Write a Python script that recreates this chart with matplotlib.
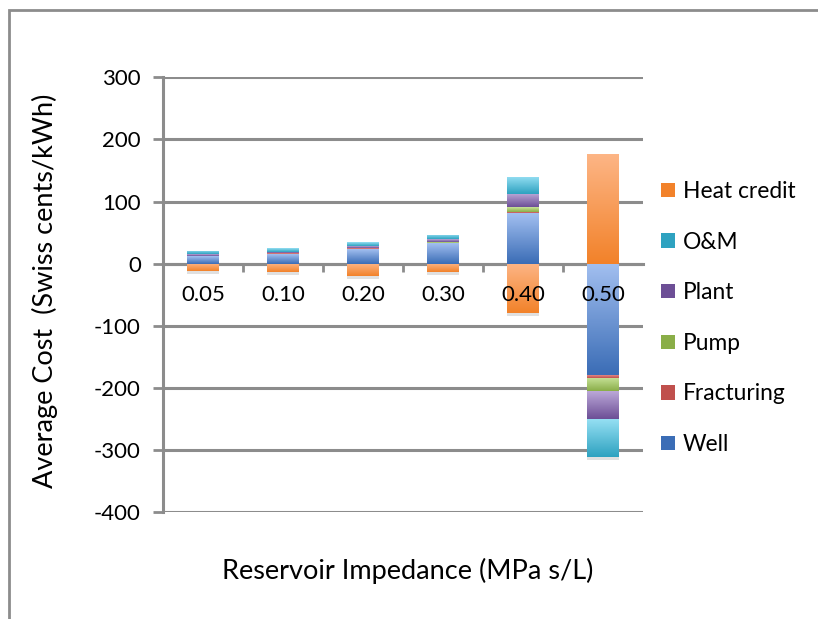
import numpy as np
import matplotlib
matplotlib.use('Agg')
import matplotlib.pyplot as plt
from matplotlib.patches import Patch, Rectangle
from matplotlib.colors import LinearSegmentedColormap
import matplotlib.patheffects as pe

plt.rcParams['font.family'] = ['Lato', 'DejaVu Sans']
plt.rcParams['axes.unicode_minus'] = False

categories = ['0.05', '0.10', '0.20', '0.30', '0.40', '0.50']
series = ['Well', 'Fracturing', 'Pump', 'Plant', 'O&M', 'Heat credit']
well = [12, 16, 24, 33, 81, -179]
fracturing = [0.4, 0.5, 0.7, 1.0, 2.5, -5]
pump = [0.5, 0.6, 1.0, 1.5, 7, -21]
plant = [2, 2.5, 3, 4, 21, -45]
om = [5, 6, 6, 6.5, 28, -61]
heat_credit = [-12, -14, -20, -14, -79, 176]

# (light top, dark bottom) like the old Excel gradient fills
colors = {
    'Well': ('#a2bff0', '#3b6db6'),
    'Fracturing': ('#ec9a98', '#c0504d'),
    'Pump': ('#c8e39a', '#8aae48'),
    'Plant': ('#bba8d8', '#6d4f96'),
    'O&M': ('#95dff3', '#2ea2c0'),
    'Heat credit': ('#fdb585', '#f2822a'),
}
grid_c = '#8c8c8c'

values = [well, fracturing, pump, plant, om, heat_credit]

fig = plt.figure(figsize=(8.18, 6.19), dpi=100)
ax = fig.add_axes([163/818, 1 - 512.3/619, 480/818, 435/619])

x = np.arange(len(categories))
pos_base = np.zeros(len(categories))
neg_base = np.zeros(len(categories))
grad = np.linspace(0, 1, 64).reshape(-1, 1)

for name, vals in zip(series, values):
    vals = np.array(vals, dtype=float)
    bottom = np.where(vals >= 0, pos_base, neg_base)
    bars = ax.bar(x, vals, bottom=bottom, width=0.4, color=colors[name][1],
                  linewidth=0, zorder=3,
                  path_effects=[pe.SimplePatchShadow(offset=(0, -2), shadow_rgbFace='#999999', alpha=0.3),
                                pe.Normal()])
    cmap = LinearSegmentedColormap.from_list(name, [colors[name][0], colors[name][1]])
    for b in bars:
        x0, y0 = b.get_x(), b.get_y()
        w, h = b.get_width(), b.get_height()
        lo, hi = min(y0, y0 + h), max(y0, y0 + h)
        im = ax.imshow(grad, cmap=cmap, aspect='auto', extent=(x0, x0 + w, lo, hi),
                       origin='upper', zorder=3.5, interpolation='bilinear')
        im.set_clip_path(b)
    pos_base = pos_base + np.where(vals >= 0, vals, 0)
    neg_base = neg_base + np.where(vals < 0, vals, 0)

ax.set_xlim(-0.5, len(categories) - 0.5)
ax.set_ylim(-400, 300)
ax.set_yticks(np.arange(-400, 301, 100))
ax.yaxis.grid(True, color=grid_c, linewidth=2.2, zorder=0)
ax.set_axisbelow(True)

ax.spines['top'].set_visible(False)
ax.spines['right'].set_visible(False)
ax.spines['left'].set_color(grid_c)
ax.spines['left'].set_linewidth(2.2)
ax.spines['bottom'].set_position(('data', 0))
ax.spines['bottom'].set_color(grid_c)
ax.spines['bottom'].set_linewidth(2.2)

ax.set_xticks(np.arange(0.5, len(categories) - 1, 1))
ax.set_xticklabels([])
ax.set_xticks(x, minor=True)
ax.set_xticklabels(categories, minor=True)
ax.tick_params(axis='x', which='major', direction='out', length=6, width=2, color=grid_c)
ax.tick_params(axis='x', which='minor', length=0, pad=15, labelsize=16)
ax.tick_params(axis='y', direction='out', length=7, width=2, color=grid_c, labelsize=16, pad=9)
# category labels sit on top of the bars
ax.xaxis.set_zorder(6)

fig.text(45/818, 1 - 291/619, 'Average Cost  (Swiss cents/kWh)', fontsize=19.5,
         rotation=90, ha='center', va='center')
fig.text(408/818, 1 - 571/619, 'Reservoir Impedance (MPa s/L)', fontsize=19.5,
         ha='center', va='center')

handles = [Patch(facecolor=colors[n][1], edgecolor='none') for n in series][::-1]
fig.legend(handles, series[::-1], loc='upper left', bbox_to_anchor=(661/818, 1 - 181/619),
           frameon=False, fontsize=16.4, handlelength=0.6, handleheight=0.6,
           handletextpad=0.35, labelspacing=1.3, borderpad=0, borderaxespad=0)

# outer chart-area border (cropped at right and bottom)
fig.patches.append(Rectangle((9/818, -0.1), 1.2, 1.1 - 10/619, transform=fig.transFigure,
                             fill=False, edgecolor=grid_c, linewidth=2))

fig.savefig('out.png', dpi=100)
